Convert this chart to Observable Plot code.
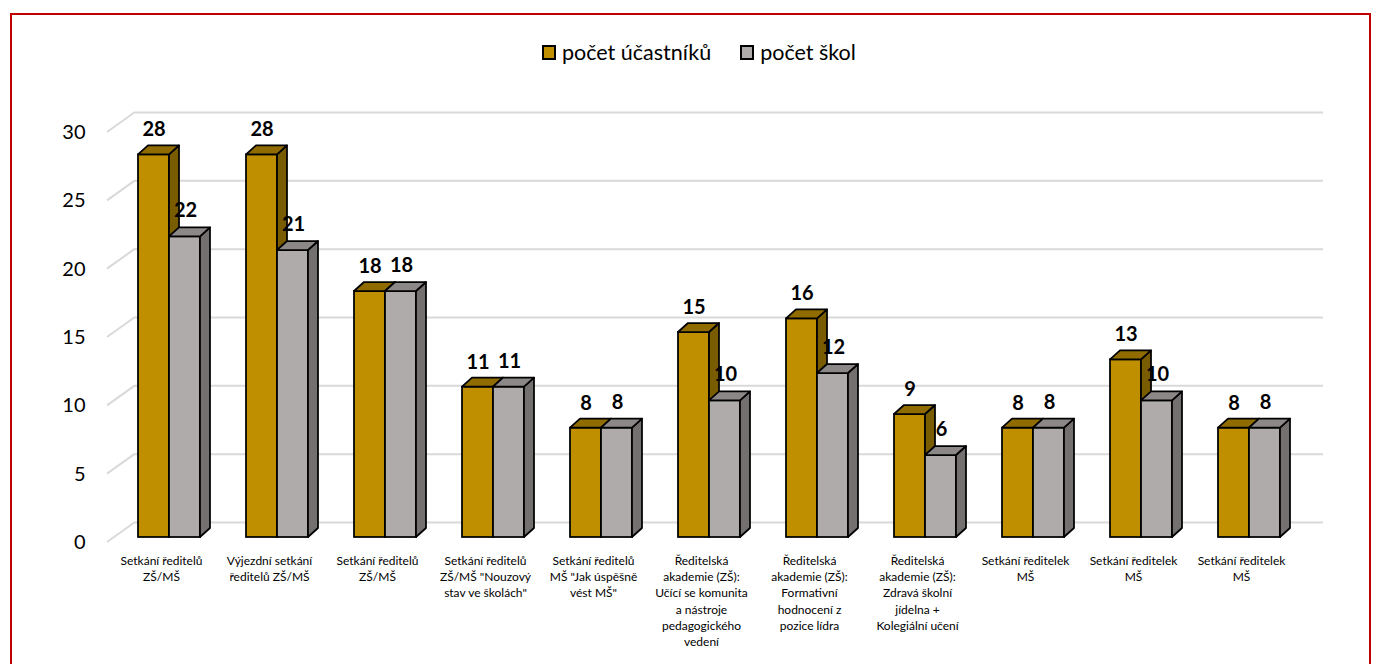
<!DOCTYPE html>
<html>
<head>
<meta charset="utf-8">
<script src="https://cdn.jsdelivr.net/npm/d3@7"></script>
<script src="https://cdn.jsdelivr.net/npm/@observablehq/plot@0.6"></script>
<style>
  body { margin: 0; background: #fff; font-family: Lato, "Open Sans", sans-serif; }
  #frame { position: absolute; left: 10px; top: 13px; width: 1357px; height: 700px; border: 2px solid #c00000; box-sizing: content-box; }
  #legend { position: absolute; top: 39px; left: 542px; display: flex; align-items: center; font-size: 21.5px; color: #000; }
  .item { display: flex; align-items: center; margin-right: 29px; }
  .sw { width: 10px; height: 11px; border: 2px solid #000; margin-right: 6px; }
  #chart { position: absolute; left: 0; top: 80px; }
</style>
</head>
<body>
<div id="frame"></div>
<div id="legend"></div>
<div id="chart"></div>
<script>
// ---- data ----
const categories = [
  "Setkání ředitelů\nZŠ/MŠ",
  "Výjezdní setkání\nředitelů ZŠ/MŠ",
  "Setkání ředitelů\nZŠ/MŠ",
  "Setkání ředitelů\nZŠ/MŠ \"Nouzový\nstav ve školách\"",
  "Setkání ředitelů\nMŠ \"Jak úspěšně\nvést MŠ\"",
  "Ředitelská\nakademie (ZŠ):\nUčící se komunita\na nástroje\npedagogického\nvedení",
  "Ředitelská\nakademie (ZŠ):\nFormativní\nhodnocení z\npozice lídra",
  "Ředitelská\nakademie (ZŠ):\nZdravá školní\njídelna +\nKolegiální učení",
  "Setkání ředitelek\nMŠ",
  "Setkání ředitelek\nMŠ",
  "Setkání ředitelek\nMŠ"
];
const participants = [28, 28, 18, 11, 8, 15, 16, 9, 8, 13, 8];
const schools = [22, 21, 18, 11, 8, 10, 12, 6, 8, 10, 8];
const yTicks = [0, 5, 10, 15, 20, 25, 30];
const seriesNames = ["počet účastníků", "počet škol"];

// ---- styling ----
const colors = {
  participants: {front: "#BF8F00", top: "#8F6B00", side: "#7A5C00"},
  schools: {front: "#AFABAB", top: "#8C8888", side: "#747070"}
};
const rows = categories.map((c, i) => ({i, label: c, participants: participants[i], schools: schools[i]}));

// legend
const legend = document.getElementById("legend");
[["participants", seriesNames[0]], ["schools", seriesNames[1]]].forEach(([k, name]) => {
  const it = document.createElement("div");
  it.className = "item";
  const sw = document.createElement("div");
  sw.className = "sw";
  sw.style.background = colors[k].front;
  const tx = document.createElement("span");
  tx.textContent = name;
  it.append(sw, tx);
  legend.append(it);
});

// 3D geometry (pixels)
const DEPTH_X = 10, DEPTH_Y = 9, LIFT = -5;
const WALL_X = 28, WALL_Y = 20;
const OFF = {participants: [31, 62], schools: [62, 93]};

function faces(key) {
  return (index, scales) => {
    const g = d3.create("svg:g").attr("stroke", "#000").attr("stroke-width", 1.75).attr("stroke-linejoin", "round");
    for (const r of rows) {
      const x0 = scales.x(r.i);
      const a = x0 + OFF[key][0], b = x0 + OFF[key][1];
      const t = scales.y(r[key]) + LIFT;
      const base = scales.y(0) + LIFT;
      g.append("path")
        .attr("d", `M${b},${t}L${b + DEPTH_X},${t - DEPTH_Y}L${b + DEPTH_X},${base - DEPTH_Y}L${b},${base}Z`)
        .attr("fill", colors[key].side);
      g.append("path")
        .attr("d", `M${a},${t}L${b},${t}L${b + DEPTH_X},${t - DEPTH_Y}L${a + DEPTH_X},${t - DEPTH_Y}Z`)
        .attr("fill", colors[key].top);
    }
    return g.node();
  };
}

function gridSlants(index, scales, values, dims) {
  const g = d3.create("svg:g").attr("stroke", "#d9d9d9").attr("stroke-width", 2).attr("fill", "none");
  for (const v of yTicks) {
    const y = scales.y(v);
    g.append("path").attr("d", `M${dims.marginLeft},${y}L${dims.marginLeft + WALL_X},${y - WALL_Y}`);
  }
  return g.node();
}

const W = 1373, H = 584;
const chart = Plot.plot({
  width: W,
  height: H,
  marginLeft: 107,
  marginRight: 78,
  marginTop: 52,
  marginBottom: 122,
  style: {fontFamily: "Lato, 'Open Sans', sans-serif", color: "#000", background: "transparent", overflow: "visible"},
  x: {type: "band", domain: d3.range(categories.length), padding: 0},
  y: {domain: [0, 30]},
  marks: [
    Plot.ruleY(yTicks, {dx: WALL_X, dy: -WALL_Y, stroke: "#d9d9d9", strokeWidth: 2, strokeOpacity: 1}),
    gridSlants,
    Plot.axisY(yTicks, {tickSize: 0, tickPadding: 22, fontSize: 20, fill: "#000", label: null}),
    Plot.axisX({tickSize: 0, tickPadding: 11, fontSize: 12, lineHeight: 1.35, tickFormat: i => categories[i], fill: "#000", label: null}),
    Plot.barY(rows, {x: "i", y: "participants", fill: colors.participants.front, stroke: "#000", strokeWidth: 1.75, insetLeft: OFF.participants[0], insetRight: 108 - OFF.participants[1], dy: LIFT}),
    faces("participants"),
    Plot.barY(rows, {x: "i", y: "schools", fill: colors.schools.front, stroke: "#000", strokeWidth: 1.75, insetLeft: OFF.schools[0], insetRight: 108 - OFF.schools[1], dy: LIFT}),
    faces("schools"),
    Plot.text(rows, {x: "i", y: "participants", text: d => String(d.participants), dx: -7.5, dy: LIFT - 25, fontSize: 20, fontWeight: "bold", fill: "#000"}),
    Plot.text(rows, {x: "i", y: "schools", text: d => String(d.schools), dx: 24, dy: LIFT - 26, fontSize: 20, fontWeight: "bold", fill: "#000"})
  ]
});
document.getElementById("chart").append(chart);
</script>
</body>
</html>
